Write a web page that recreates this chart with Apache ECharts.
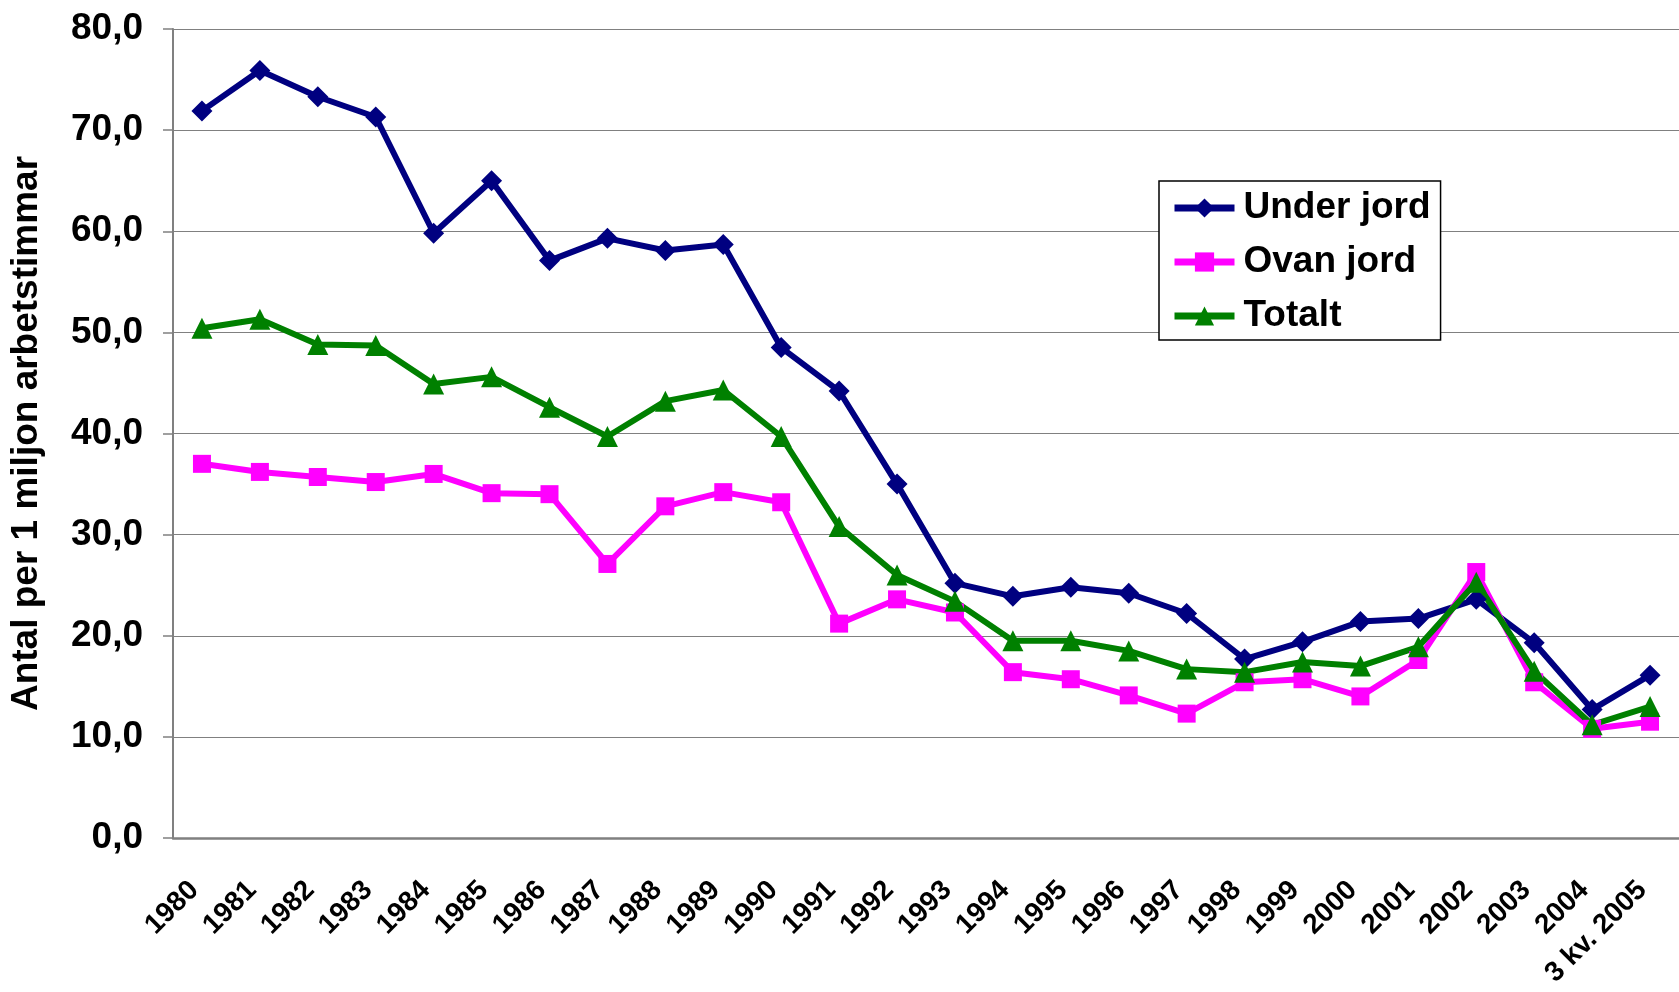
<!DOCTYPE html>
<html>
<head>
<meta charset="utf-8">
<script src="https://cdn.jsdelivr.net/npm/echarts@6/dist/echarts.min.js"></script>
<style>
  html, body { margin: 0; padding: 0; background: #fff; }
  #chart { width: 1679px; height: 992px; }
</style>
</head>
<body>
<div id="chart"></div>
<script>
// kategorier (år)
var years = ['1980', '1981', '1982', '1983', '1984', '1985', '1986', '1987', '1988', '1989',
  '1990', '1991', '1992', '1993', '1994', '1995', '1996', '1997', '1998', '1999',
  '2000', '2001', '2002', '2003', '2004', '3 kv. 2005'];

var underJord = [71.9, 75.9, 73.3, 71.3, 59.8, 65.0, 57.1, 59.3, 58.1, 58.7,
  48.5, 44.2, 35.0, 25.2, 23.9, 24.8, 24.2, 22.2, 17.7, 19.4,
  21.4, 21.7, 23.6, 19.3, 12.7, 16.1];

var ovanJord = [37.0, 36.2, 35.7, 35.2, 36.0, 34.1, 34.0, 27.1, 32.8, 34.2,
  33.2, 21.2, 23.6, 22.3, 16.4, 15.7, 14.1, 12.3, 15.4, 15.7,
  14.0, 17.6, 26.3, 15.4, 10.8, 11.5];

var totalt = [50.4, 51.3, 48.8, 48.7, 44.9, 45.6, 42.6, 39.7, 43.2, 44.3,
  39.7, 30.8, 26.0, 23.4, 19.5, 19.5, 18.5, 16.7, 16.4, 17.4,
  17.0, 18.9, 25.3, 16.5, 11.2, 13.0];

var font = 'Liberation Sans, Arial, sans-serif';

var option = {
  animation: false,
  backgroundColor: '#fff',
  grid: { left: 172, top: 29, width: 1517, height: 809 },
  legend: {
    orient: 'vertical',
    left: 1159, top: 181,
    backgroundColor: '#fff',
    borderColor: '#000', borderWidth: 1.5,
    padding: [7, 10, 4, 12],
    itemWidth: 60, itemHeight: 24, itemGap: 14,
    lineStyle: { width: 7 },
    textStyle: { fontFamily: font, fontWeight: 'bold', fontSize: 37, color: '#000', lineHeight: 40, padding: [0, 0, 0, 4] },
    data: ['Under jord', 'Ovan jord', 'Totalt']
  },
  xAxis: {
    type: 'category',
    data: years,
    boundaryGap: true,
    axisLine: { lineStyle: { color: '#808080', width: 2.5 } },
    axisTick: { length: 10, lineStyle: { color: '#808080', width: 1.5 } },
    axisLabel: {
      rotate: 45, interval: 0, margin: 40,
      padding: [0, 11, 0, 0],
      fontFamily: font, fontWeight: 'bold', fontSize: 28, color: '#000'
    }
  },
  yAxis: {
    type: 'value',
    min: 0, max: 80, interval: 10,
    name: 'Antal per 1 miljon arbetstimmar',
    nameLocation: 'middle',
    nameGap: 128,
    nameTextStyle: { fontFamily: font, fontWeight: 'bold', fontSize: 37, color: '#000' },
    axisLine: { show: true, lineStyle: { color: '#808080', width: 2 } },
    axisTick: { show: true, length: 10, lineStyle: { color: '#808080', width: 1.5 } },
    splitLine: { lineStyle: { color: '#808080', width: 1.2 } },
    axisLabel: {
      margin: 30,
      fontFamily: font, fontWeight: 'bold', fontSize: 37, color: '#000',
      formatter: function (v) { return v.toFixed(1).replace('.', ','); }
    }
  },
  series: [
    {
      name: 'Under jord', type: 'line', data: underJord,
      color: '#000080',
      symbol: 'diamond', symbolSize: [21, 21],
      lineStyle: { width: 6 }
    },
    {
      name: 'Ovan jord', type: 'line', data: ovanJord,
      color: '#FF00FF',
      symbol: 'rect', symbolSize: 18,
      lineStyle: { width: 6 }
    },
    {
      name: 'Totalt', type: 'line', data: totalt,
      color: '#008000',
      symbol: 'triangle', symbolSize: 21,
      lineStyle: { width: 6 }
    }
  ]
};

var chart = echarts.init(document.getElementById('chart'), null, { renderer: 'canvas' });
chart.setOption(option);
</script>
</body>
</html>
